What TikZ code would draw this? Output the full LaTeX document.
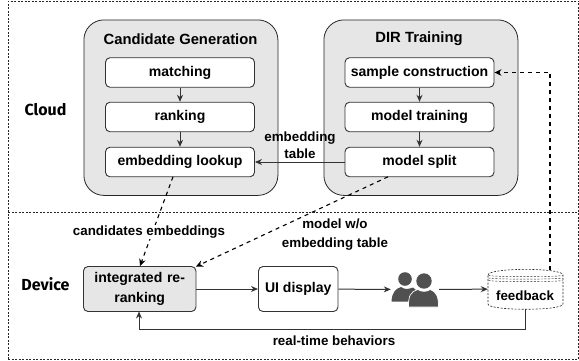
\documentclass[tikz,border=0pt]{standalone}
\usepackage{fontspec}
\setmainfont{Liberation Sans}
\newfontfamily\handfont{Fira Sans}
\usetikzlibrary{arrows.meta}
\definecolor{grp}{HTML}{E6E6E6}
\definecolor{ico}{HTML}{505050}
\newcommand{\titlefont}{\fontsize{14.8}{16.5}\selectfont\bfseries}
\newcommand{\boxfont}{\fontsize{14.05}{16.5}\selectfont\bfseries}
\newcommand{\labfont}{\fontsize{13.35}{16.5}\selectfont\bfseries}
\tikzset{
  x=1pt,y=-1pt,
  lab/.style={font=\labfont,text=black,inner sep=1pt,align=center},
  title/.style={font=\titlefont,text=black,inner sep=1pt},
  hand/.style={font=\fontsize{16}{17}\selectfont\handfont\bfseries,inner sep=0pt},
  group/.style={draw=black!85,fill=grp,rounded corners=20pt,line width=0.8pt,minimum width=194pt,minimum height=175.5pt,inner sep=0pt},
  stepbox/.style={draw=black!80,fill=white,rounded corners=4.5pt,line width=0.9pt,minimum width=149pt,minimum height=29.5pt,inner sep=0pt,font=\boxfont},
  flow/.style={-{Stealth[length=7pt,width=6pt]},line width=1pt,black!80},
  dflow/.style={-{Stealth[length=7pt,width=6.5pt]},line width=1.1pt,dash pattern=on 4pt off 4pt,black},
  frame/.style={line width=0.6pt,black!85,dash pattern=on 2pt off 1.5pt},
}
\begin{document}
\begin{tikzpicture}
\useasboundingbox (0,0) rectangle (579,360);
\fill[white] (0,0) rectangle (579,360);
\draw[frame] (8,359) -- (8,1) -- (578,1);
\draw[frame] (8,359) -- (578,359) -- (578,1);
\draw[frame] (8,212) -- (578,212);
\node[group,anchor=north west] (cg) at (83.5,19.5) {};
\node[group,anchor=north west] (dir) at (323.5,19.5) {};
\node[title] (cgt) at (180.5,39) {Candidate Generation};
\node[title] (dirt) at (419,39) {DIR Training};
\node[stepbox] (m) at (180,72.5) {matching};
\node[stepbox] (r) at (180,117) {ranking};
\node[stepbox] (e) at (180,162) {embedding lookup};
\node[stepbox] (s) at (419.5,72.5) {sample construction};
\node[stepbox] (t) at (419.5,117) {model training};
\node[stepbox] (p) at (419.5,162) {model split};
\node[hand] (cloud) at (45.5,110) {Cloud};
\node[hand] (device) at (45.5,284) {Device};
\node[stepbox,fill=grp,minimum width=112.5pt,minimum height=45pt,align=center,text width=105pt] (ir) at (139.7,289) {integrated re-\\[3.5pt]ranking};
\node[stepbox,minimum width=79.5pt,minimum height=45pt] (ui) at (298.2,289) {UI display};
\node[inner sep=0pt,minimum width=48pt,minimum height=36pt] (ppl) at (415,289.5) {};
\fill[ico] (405,279) circle (6.8);
\fill[ico] (391.5,301.5) .. controls (392,292) and (396,288.5) .. (401,287) .. controls (405,290) and (409,289) .. (413,287.5) -- (416,290) -- (408,301.5) -- cycle;
\fill[ico] (424,281) circle (7.7);
\draw[white,line width=0.7pt,fill=ico] (408.5,307) .. controls (408.5,296) and (410,292) .. (418,289.5) .. controls (421,292) and (427,292) .. (430,289.5) .. controls (437,292) and (438.5,297) .. (438.5,307) -- cycle;
% feedback datastore
\node[inner sep=0pt,minimum width=75pt,minimum height=39pt] (fb) at (525.5,289) {};
\draw[frame,fill=white] (488,275) .. controls (488,267.5) and (563,267.5) .. (563,275) -- (563,304) .. controls (563,311) and (488,311) .. (488,304) -- cycle;
\draw[frame,line width=0.45pt] (488.5,275.5) .. controls (495,277) and (556,277) .. (562.5,275.5);
\draw[frame,line width=0.45pt] (488.5,278) .. controls (495,279.5) and (556,279.5) .. (562.5,278);
\draw[frame,line width=0.45pt] (488.5,280.5) .. controls (495,282) and (556,282) .. (562.5,280.5);
\node[font=\labfont,inner sep=0pt] (fbl) at (525,295.5) {feedback};
% connectors
\draw[flow] (m) -- (r);
\draw[flow] (r) -- (e);
\draw[flow] (s) -- (t);
\draw[flow] (t) -- (p);
\draw[flow] (p) -- (e);
\draw[flow] (ir) -- (ui);
\draw[flow] (ui) -- (ppl);
\draw[flow] (ppl) -- (fb);
\coordinate (eb) at (173,176.8);
\coordinate (irt) at (140,266);
\coordinate (pb) at (388,176.8);
\coordinate (irc) at (196,266.5);
\coordinate (fbt) at (550,270);
\coordinate (fbb) at (525,309);
\coordinate (irb) at (139,311.5);
\draw[dflow] (eb) -- (irt);
\draw[dflow] (pb) -- (irc);
\draw[dflow] (fbt) |- (s.east);
\draw[flow] (fbb) -- (525,329) -| (irb);
% labels
\node[lab] (l1) at (300,145) {embedding\\table};
\node[lab,fill=white] (l2) at (149,232) {candidates embeddings};
\node[lab] (l3) at (335,234.5) {model w/o\\[3pt]embedding table};
\node[lab] (l4) at (334,341) {real-time behaviors};
\end{tikzpicture}
\end{document}
